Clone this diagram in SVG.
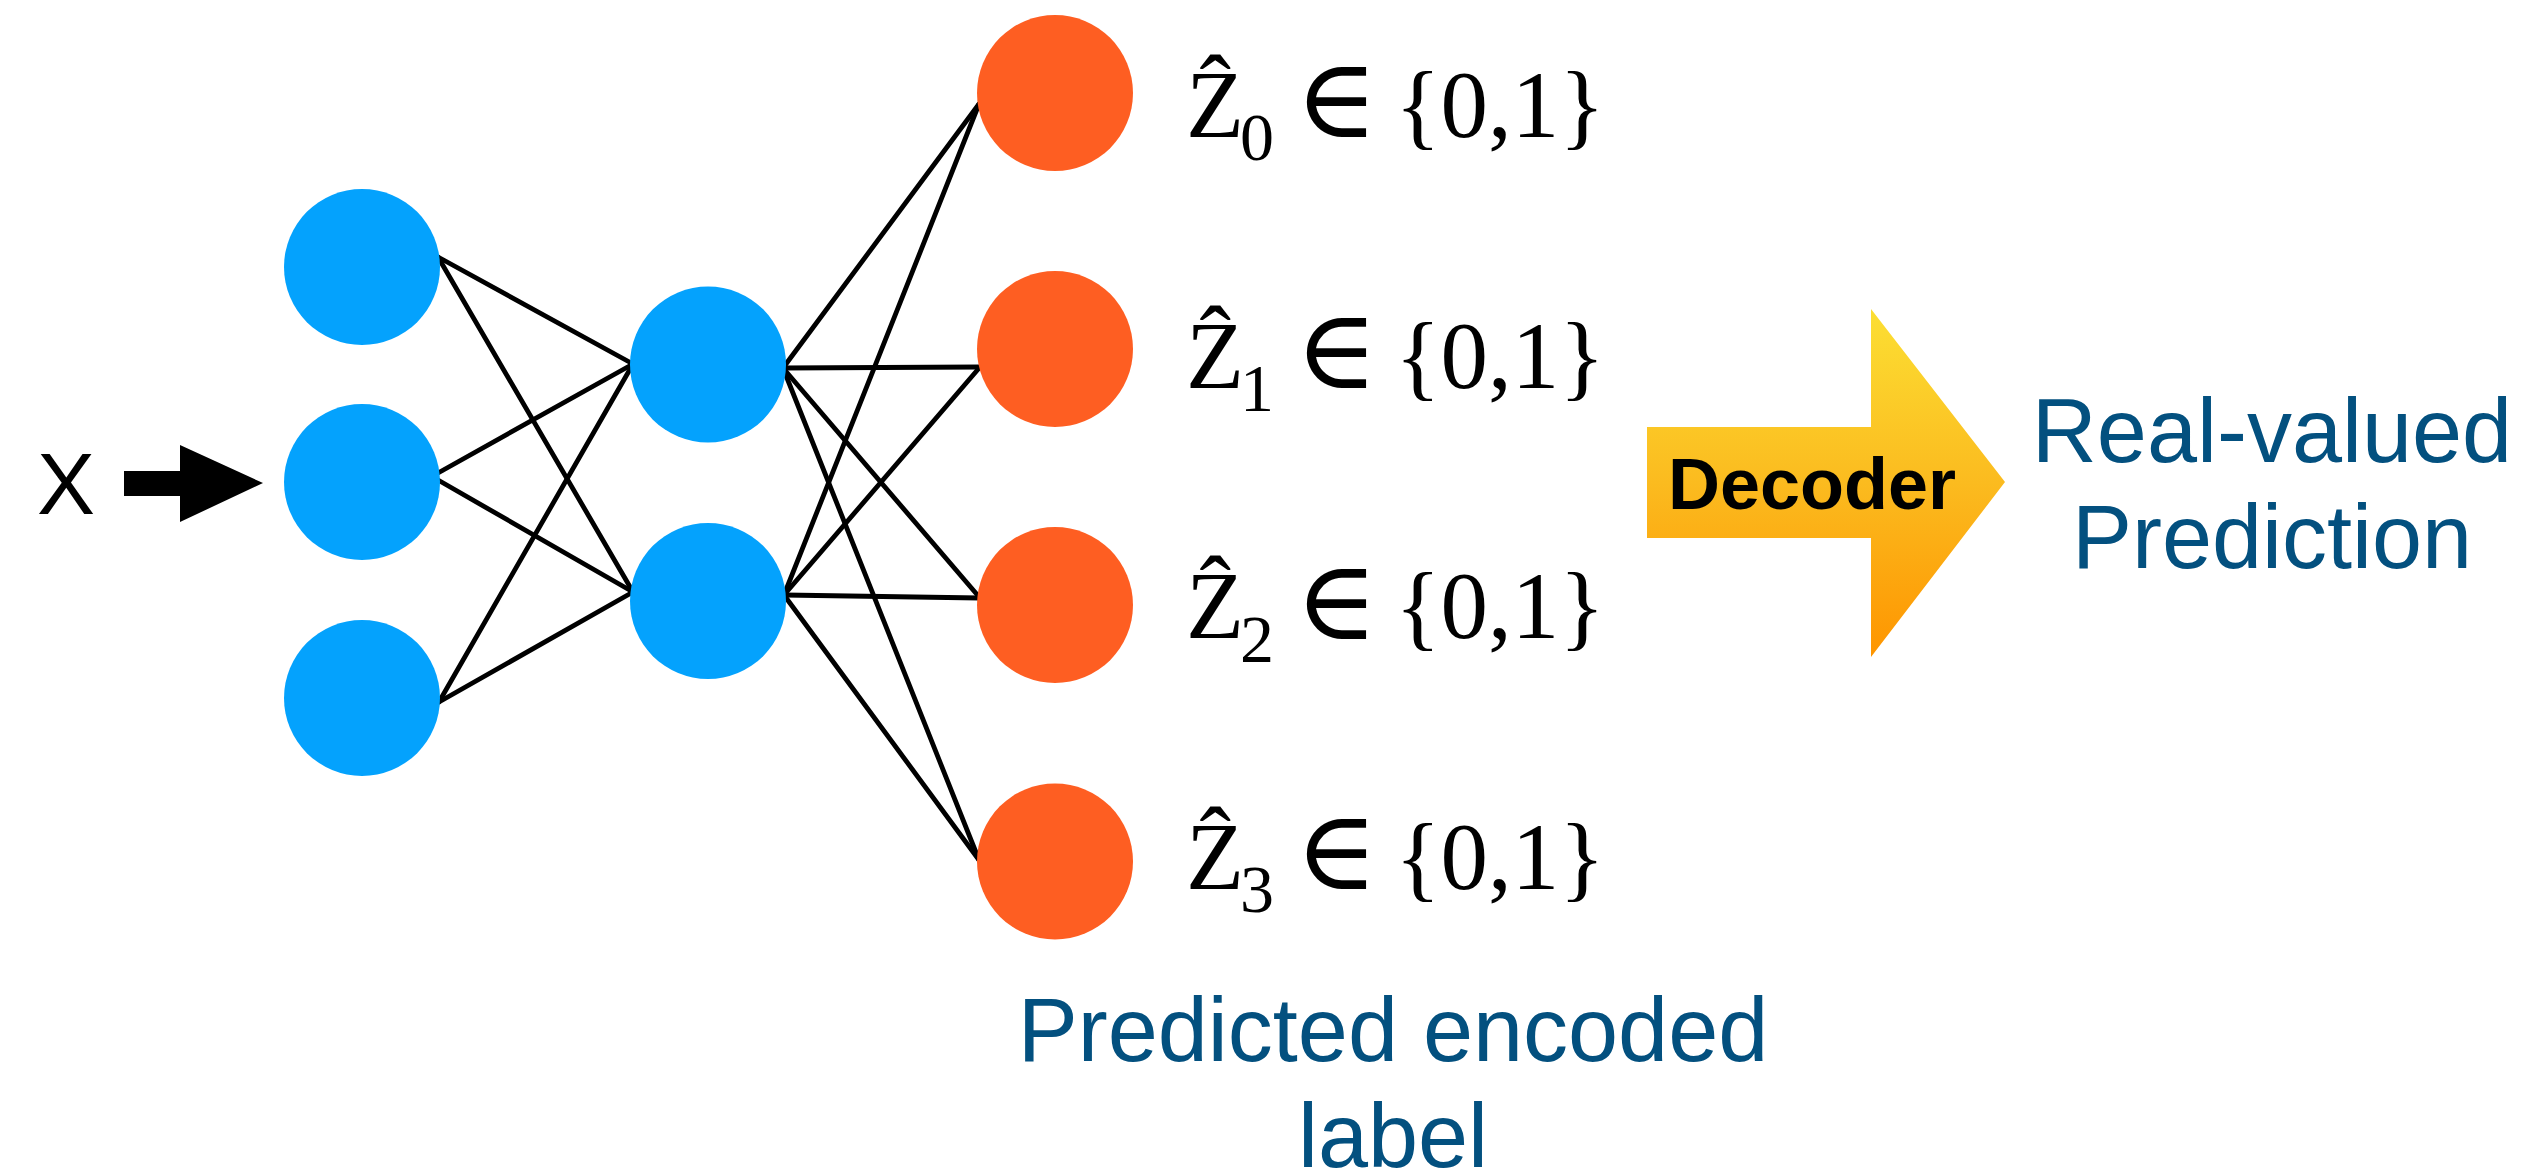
<svg xmlns="http://www.w3.org/2000/svg" width="2524" height="1174" viewBox="0 0 2524 1174">
<style>
.in{fill:#04A2FD}
.out{fill:#FE5E22}
.edge{stroke:#000;stroke-width:4.8;stroke-linecap:round;fill:none}
.math{font-family:"Liberation Serif","DejaVu Serif",serif;font-size:95px;fill:#000}
.elem{font-family:"Liberation Serif","DejaVu Serif",serif;font-size:112px;fill:#000}
.sub{font-family:"Liberation Serif","DejaVu Serif",serif;font-size:68px;fill:#000}
.blue{font-family:"Liberation Sans",Arial,sans-serif;font-size:90px;fill:#03507F;text-anchor:middle}
</style>
<defs>
<linearGradient id="g" x1="0" y1="0" x2="0" y2="1">
<stop offset="0" stop-color="#FCDF33"/>
<stop offset="0.5" stop-color="#FBBB1F"/>
<stop offset="1" stop-color="#FE9500"/>
</linearGradient>
</defs>
<g id="connectors">
<line class="edge" x1="438" y1="257" x2="633" y2="364"/>
<line class="edge" x1="438" y1="257" x2="633" y2="592"/>
<line class="edge" x1="438" y1="473" x2="633" y2="364"/>
<line class="edge" x1="438" y1="480" x2="633" y2="592"/>
<line class="edge" x1="439" y1="702" x2="633" y2="364"/>
<line class="edge" x1="439" y1="702" x2="633" y2="592"/>
<line class="edge" x1="783" y1="368" x2="979" y2="104"/>
<line class="edge" x1="783" y1="368" x2="980" y2="367"/>
<line class="edge" x1="783" y1="368" x2="980" y2="598"/>
<line class="edge" x1="783" y1="368" x2="979" y2="860"/>
<line class="edge" x1="784" y1="595" x2="979" y2="104"/>
<line class="edge" x1="784" y1="595" x2="980" y2="367"/>
<line class="edge" x1="784" y1="595" x2="980" y2="598"/>
<line class="edge" x1="784" y1="595" x2="979" y2="860"/>
</g>
<g id="input-x">
<text x="37" y="514" font-family="Liberation Sans,Arial,sans-serif" font-size="87" fill="#000">X</text>
<path d="M124 471H180V445L263 483L180 522V496H124Z" fill="#000"/>
</g>
<g id="in0"><circle class="in" cx="362" cy="267" r="78"/></g>
<g id="in1"><circle class="in" cx="362" cy="482" r="78"/></g>
<g id="in2"><circle class="in" cx="362" cy="698" r="78"/></g>
<g id="h0"><circle class="in" cx="708" cy="364.5" r="78"/></g>
<g id="h1"><circle class="in" cx="708" cy="601" r="78"/></g>
<g id="o0"><circle class="out" cx="1055" cy="93" r="78"/>
<text class="math" x="1186" y="136.5">Ẑ</text><text class="sub" x="1240" y="160">0</text>
<text class="elem" x="1295" y="137">∈</text><text class="math" x="1395" y="136.5">{0,1}</text></g>
<g id="o1"><circle class="out" cx="1055" cy="349" r="78"/>
<text class="math" x="1186" y="387.5">Ẑ</text><text class="sub" x="1240" y="411">1</text>
<text class="elem" x="1295" y="388">∈</text><text class="math" x="1395" y="387.5">{0,1}</text></g>
<g id="o2"><circle class="out" cx="1055" cy="605" r="78"/>
<text class="math" x="1186" y="638">Ẑ</text><text class="sub" x="1240" y="662">2</text>
<text class="elem" x="1295" y="638.5">∈</text><text class="math" x="1395" y="638">{0,1}</text></g>
<g id="o3"><circle class="out" cx="1055" cy="861.5" r="78"/>
<text class="math" x="1186" y="888.5">Ẑ</text><text class="sub" x="1240" y="912">3</text>
<text class="elem" x="1295" y="889">∈</text><text class="math" x="1395" y="888.5">{0,1}</text></g>
<g id="encoded-label">
<text class="blue" x="1393" y="1061">Predicted encoded</text>
<text class="blue" x="1393" y="1167">label</text>
</g>
<g id="decoder">
<path d="M1647 427H1871V309L2005 482L1871 657V538H1647Z" fill="url(#g)"/>
<text x="1668" y="508.5" font-family="Liberation Sans,Arial,sans-serif" font-weight="bold" font-size="72" fill="#000">Decoder</text>
</g>
<g id="prediction">
<text class="blue" x="2272" y="461.5">Real-valued</text>
<text class="blue" x="2272" y="568">Prediction</text>
</g>
</svg>
